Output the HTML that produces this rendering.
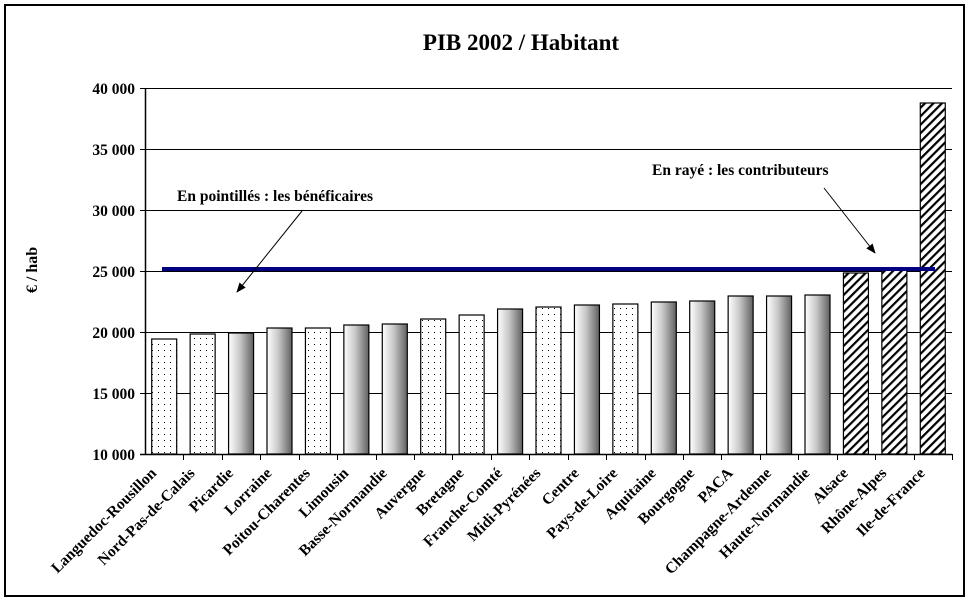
<!DOCTYPE html>
<html><head><meta charset="utf-8"><style>body{margin:0;background:#fff}svg{display:block}</style></head><body>
<svg width="970" height="602" xmlns="http://www.w3.org/2000/svg" font-family="Liberation Serif, serif" font-weight="bold">
<defs>
<pattern id="dots" width="6" height="6" patternUnits="userSpaceOnUse"><rect width="6" height="6" fill="#fff"/><rect x="2" y="2" width="1" height="1" fill="#000"/></pattern>
<pattern id="hatch" width="6" height="6" patternUnits="userSpaceOnUse" patternTransform="rotate(45)"><rect width="6" height="6" fill="#fff"/><rect x="0" y="0" width="2.2" height="6" fill="#000"/></pattern>
<linearGradient id="grad" x1="0" x2="1" y1="0" y2="0"><stop offset="0" stop-color="#fff"/><stop offset="0.45" stop-color="#c8c8c8"/><stop offset="0.75" stop-color="#909090"/><stop offset="1" stop-color="#606060"/></linearGradient>
<marker id="arr" markerWidth="10" markerHeight="10" refX="9" refY="5" orient="auto" markerUnits="userSpaceOnUse"><path d="M0,1 L10,5 L0,9 z" fill="#000"/></marker>
</defs>
<rect x="5" y="5" width="959" height="591" fill="#fff" stroke="#000" stroke-width="2"/>
<text x="521" y="50" font-size="23" text-anchor="middle">PIB 2002 / Habitant</text>
<text transform="translate(37,270) rotate(-90)" font-size="16" text-anchor="middle">€ / hab</text>
<g stroke="#000" stroke-width="1">
<line x1="145" x2="952" y1="88.5" y2="88.5"/><line x1="145" x2="952" y1="149.5" y2="149.5"/><line x1="145" x2="952" y1="210.5" y2="210.5"/><line x1="145" x2="952" y1="271.5" y2="271.5"/><line x1="145" x2="952" y1="332.5" y2="332.5"/><line x1="145" x2="952" y1="393.5" y2="393.5"/>
<line x1="140" x2="145" y1="88.5" y2="88.5"/><line x1="140" x2="145" y1="149.5" y2="149.5"/><line x1="140" x2="145" y1="210.5" y2="210.5"/><line x1="140" x2="145" y1="271.5" y2="271.5"/><line x1="140" x2="145" y1="332.5" y2="332.5"/><line x1="140" x2="145" y1="393.5" y2="393.5"/>
</g>
<g font-size="15.5" text-anchor="end">
<text x="135" y="94">40 000</text><text x="135" y="155">35 000</text><text x="135" y="216">30 000</text><text x="135" y="277">25 000</text><text x="135" y="338">20 000</text><text x="135" y="399">15 000</text><text x="135" y="460">10 000</text>
</g>
<g id="bars" stroke="#000" stroke-width="1.2"></g>
<line x1="145.5" x2="145.5" y1="88" y2="455" stroke="#000" stroke-width="1.5"/>
<line x1="140" x2="952" y1="454.5" y2="454.5" stroke="#000" stroke-width="1.5"/>
<g id="ticks" stroke="#000"></g>
<line x1="162" x2="935" y1="269" y2="269" stroke="#000080" stroke-width="4"/>
<text x="177" y="201" font-size="15.5">En pointillés : les bénéficaires</text>
<line x1="302" y1="211" x2="237" y2="292" stroke="#000" stroke-width="1" marker-end="url(#arr)"/>
<text x="652" y="175" font-size="15.5">En rayé : les contributeurs</text>
<line x1="824" y1="188" x2="875" y2="253" stroke="#000" stroke-width="1" marker-end="url(#arr)"/>
<g id="labels" font-size="15.5" text-anchor="end"></g>
<script>
const d=[["Languedoc-Rousillon",339,"d"],["Nord-Pas-de-Calais",334,"d"],["Picardie",333,"g"],["Lorraine",328,"g"],["Poitou-Charentes",328,"d"],["Limousin",325,"g"],["Basse-Normandie",324,"g"],["Auvergne",319,"d"],["Bretagne",315,"d"],["Franche-Comté",309,"g"],["Midi-Pyrénées",307,"d"],["Centre",305,"g"],["Pays-de-Loire",304,"d"],["Aquitaine",302,"g"],["Bourgogne",301,"g"],["PACA",296,"g"],["Champagne-Ardenne",296,"g"],["Haute-Normandie",295,"g"],["Alsace",273,"h"],["Rhône-Alpes",268,"h"],["Ile-de-France",103,"h"]];
const ns="http://www.w3.org/2000/svg",w=807/21;
const B=document.getElementById("bars"),T=document.getElementById("ticks"),L=document.getElementById("labels");
d.forEach((v,i)=>{const c=145+(i+0.5)*w;
const r=document.createElementNS(ns,"rect");r.setAttribute("x",c-12.5);r.setAttribute("y",v[1]);r.setAttribute("width",25);r.setAttribute("height",454-v[1]);
r.setAttribute("fill",v[2]=="d"?"url(#dots)":v[2]=="g"?"url(#grad)":"url(#hatch)");B.appendChild(r);
const t=document.createElementNS(ns,"line");const x=Math.round(145+(i+1)*w)+0.5;t.setAttribute("x1",x);t.setAttribute("x2",x);t.setAttribute("y1",454);t.setAttribute("y2",460);T.appendChild(t);
const l=document.createElementNS(ns,"text");l.setAttribute("transform","translate("+(c-7)+",474) rotate(-45)");l.textContent=v[0];L.appendChild(l);});
</script>
</svg>
</body></html>
